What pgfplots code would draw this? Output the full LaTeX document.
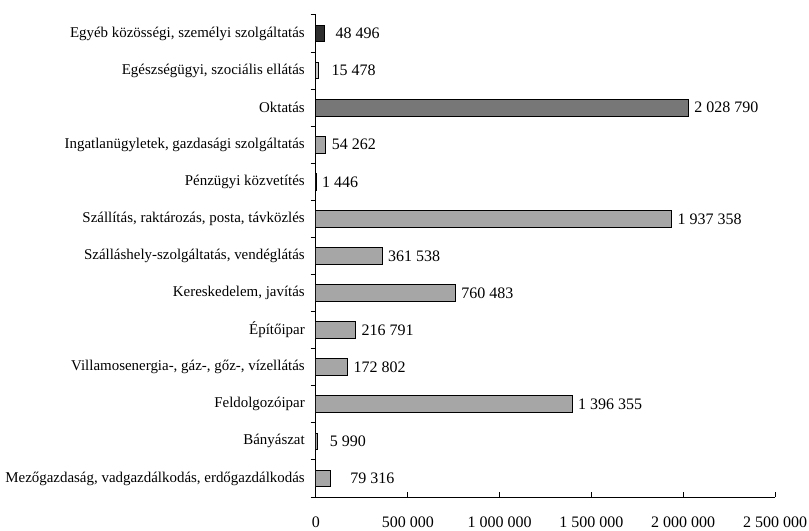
\documentclass[border=0pt]{standalone}
\usepackage{fontspec}
\setmainfont{Liberation Serif}
\usepackage{pgfplots}
\usepackage{pgfplotstable}
\pgfplotsset{compat=1.18}
\definecolor{barA}{HTML}{A6A6A6}
\definecolor{barB}{HTML}{777777}
\definecolor{barC}{HTML}{2E2E2E}
\definecolor{barD}{HTML}{CCCCCC}

\pgfplotstableread{
y x off
0 79316 10.5
1 5990 5.25
2 1396355 0
3 172802 0
4 216791 0
5 760483 0
6 361538 0
7 1937358 0
8 1446 0
9 54262 0
}\graydata

\begin{document}
\fontsize{12}{14}\selectfont
\begin{tikzpicture}[font=\fontsize{12}{14}\selectfont]
\begin{axis}[
  scale only axis, width=344.25pt, height=361.5pt,
  xbar, bar width=12.5pt, bar shift=0pt,
  xmin=0, xmax=2500000, ymin=-0.5, ymax=12.5,
  axis x line*=bottom, axis y line*=left,
  axis line style={-, black, line width=0.75pt},
  /pgf/number format/assume math mode=true,
  /pgf/number format/.cd, fixed, precision=0, 1000 sep={\hspace{0.25em}},
  /pgfplots/.cd,
  xtick={0,500000,1000000,1500000,2000000,2500000}, scaled x ticks=false,
  ytick={-0.5,0.5,...,12.5}, y tick label as interval,
  yticklabels={{Mezőgazdaság, vadgazdálkodás, erdőgazdálkodás},
    Bányászat, Feldolgozóipar, {Villamosenergia-, gáz-, gőz-, vízellátás},
    Építőipar, {Kereskedelem, javítás}, {Szálláshely-szolgáltatás, vendéglátás},
    {Szállítás, raktározás, posta, távközlés}, Pénzügyi közvetítés,
    {Ingatlanügyletek, gazdasági szolgáltatás}, Oktatás,
    {Egészségügyi, szociális ellátás}, {Egyéb közösségi, személyi szolgáltatás}},
  tick align=inside, major tick length=4pt,
  tick style={black, line width=0.75pt},
  ytick style={xshift=-4pt},
  yticklabel style={xshift=-4.25pt, font=\fontsize{11.2}{13}\selectfont},
  xticklabel style={yshift=-11pt},
  nodes near coords={\pgfmathprintnumber{\pgfplotspointmeta}},
  point meta=explicit symbolic,
  every node near coord/.append style={black, anchor=west, font=\fontsize{12}{14}\selectfont},
]
\addplot[fill=barA, draw=black, line width=0.75pt,
  visualization depends on={\thisrow{off}\as\off},
  nodes near coords style={xshift=\off pt}]
  table[x=x, y=y, meta=x]{\graydata};
\addplot[fill=barB, draw=black, line width=0.75pt]
  coordinates {(2028790,10) [2028790]};
\addplot[fill=barD, draw=black, line width=0.75pt,
  nodes near coords style={xshift=5.25pt}]
  coordinates {(15478,11) [15478]};
\addplot[fill=barC, draw=black, line width=0.75pt,
  nodes near coords style={xshift=3.75pt}]
  coordinates {(48496,12) [48496]};
\end{axis}
\pgfresetboundingbox
\path ([shift={(-237pt,-25.5pt)}]current axis.south west) rectangle ([shift={(25.5pt,11.25pt)}]current axis.north east);
\end{tikzpicture}
\end{document}
